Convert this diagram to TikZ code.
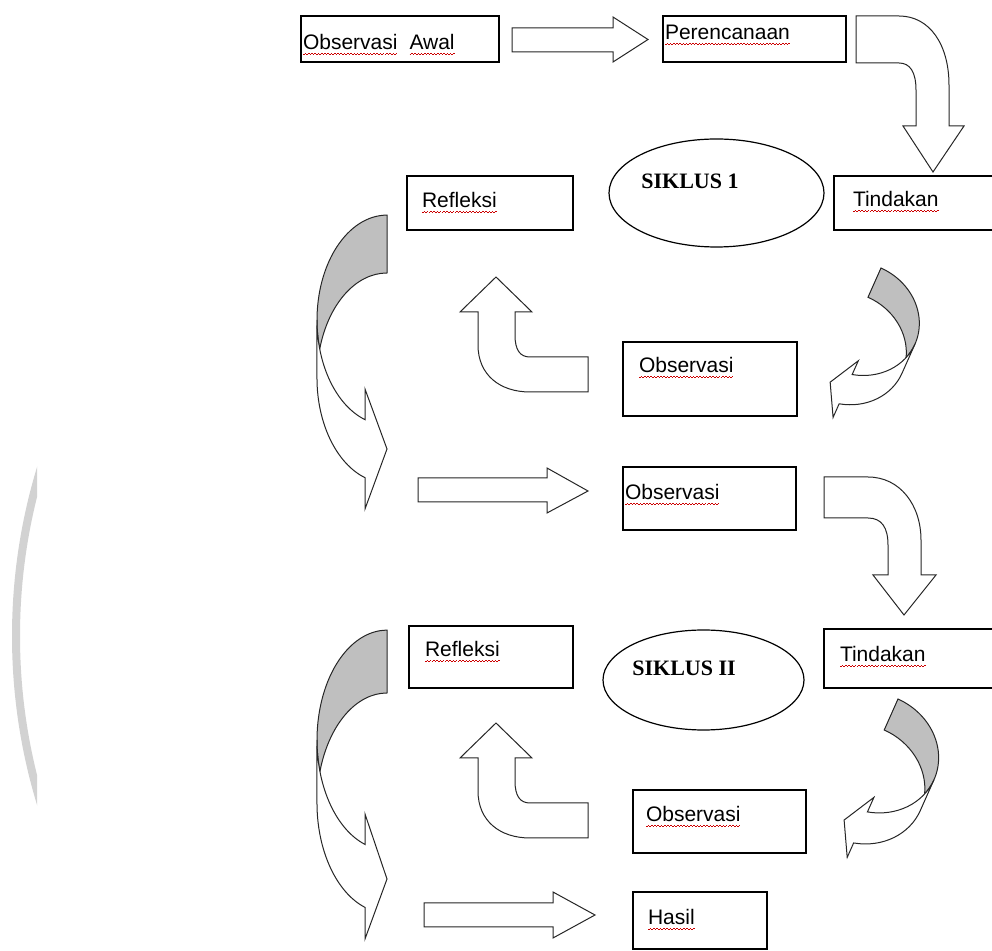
\documentclass[tikz,border=0pt]{standalone}
\usepackage{fontspec}
\setmainfont{Liberation Sans}
\newfontfamily\siklusfont{Liberation Serif}
\usetikzlibrary{shapes.geometric}

% red wavy mark under words, as in the original page
\newcommand\spell[1]{\setbox0=\hbox{#1}\rlap{\raisebox{-2.4pt}{\color{red!80!black}\hbox to \wd0{\xleaders\hbox to 1.6pt{\rule{0.8pt}{0.45pt}\rule[0.45pt]{0.8pt}{0.45pt}}\hfil}}}\box0}

\begin{document}
\begin{tikzpicture}[x=0.5pt, y=-0.5pt,
	box/.style={draw, line width=0.8pt, anchor=north west, align=left, inner ysep=0pt, outer sep=0pt, font=\fontsize{10.5}{12}\selectfont},
	cycle/.style={draw, ellipse, line width=0.6pt, inner sep=0pt, outer sep=0pt},
	cyclelabel/.style={font=\siklusfont\bfseries\fontsize{11}{13}\selectfont, anchor=base west, inner sep=0pt},
	blockarrow/.style={draw=black!85, fill=white, line width=0.5pt, line join=miter},
	backface/.style={blockarrow, fill=gray!50}]
	\useasboundingbox (0,0) rectangle (992,951);

	% Faint arc at the left edge
	\begin{scope}
		\clip (0,400) rectangle (37,951);
		\draw[gray!35, line width=4pt] (591,636) circle[radius=287.5pt];
	\end{scope}

	% Boxes
	\node[box, inner xsep=1pt, text width=97pt, text height=17pt, text depth=6pt] (obsawal) at (301,16) {\spell{Observasi}\hspace{2.5pt} \spell{Awal}};
	\node[box, inner xsep=1pt, text width=89.5pt, text height=12pt, text depth=11pt] (rencana) at (663,16) {\spell{Perencanaan}};
	\node[box, inner xsep=7.5pt, text width=68pt, text height=16pt, text depth=11pt] (refl1) at (407,176) {\spell{Refleksi}};
	\node[box, inner xsep=9.5pt, text width=61.5pt, text height=15.5pt, text depth=11.5pt] (tind1) at (834,176) {\spell{Tindakan}};
	\node[box, inner xsep=8pt, text width=71pt, text height=15.5pt, text depth=21.5pt] (obs1) at (623,342) {\spell{Observasi}};
	\node[box, inner xsep=1pt, text width=84.5pt, text height=16.5pt, text depth=15pt] (obs2) at (623,467) {\spell{Observasi}};
	\node[box, inner xsep=8pt, text width=66pt, text height=15.5pt, text depth=15.5pt] (refl2) at (409,626) {\spell{Refleksi}};
	\node[box, inner xsep=8pt, text width=69.5pt, text height=16.5pt, text depth=13pt] (tind2) at (824,629) {\spell{Tindakan}};
	\node[box, inner xsep=6.5pt, text width=73.5pt, text height=16pt, text depth=15.5pt] (obs3) at (633,790) {\spell{Observasi}};
	\node[box, inner xsep=7.5pt, text width=52pt, text height=16.5pt, text depth=12pt] (hasil) at (633,892) {\spell{Hasil}};

	% Cycles
	\node[cycle, minimum width=107.5pt, minimum height=54pt] (sik1) at (716.5,193) {};
	\node[cyclelabel] (sik1lab) at ([shift={(-75.5,-4)}]sik1.center) {SIKLUS 1};
	\node[cycle, minimum width=100.5pt, minimum height=50pt] (sik2) at (703.5,680) {};
	\node[cyclelabel] (sik2lab) at ([shift={(-71.5,-4)}]sik2.center) {SIKLUS II};

	% Straight block arrows
	\draw[blockarrow] (512,28) -- (613,28) -- (613,17) -- (648,39.5) -- (613,62) -- (613,52) -- (512,52) -- cycle;
	\draw[blockarrow] (418,478) -- (547,478) -- (547,468) -- (588,491) -- (547,513) -- (547,502) -- (418,502) -- cycle;
	\draw[blockarrow] (424,903) -- (553,903) -- (553,892) -- (595,915) -- (553,938) -- (553,927) -- (424,927) -- cycle;

	% Bent arrows going down
	\draw[blockarrow] (856,16) -- (899,16) .. controls (930,16) and (949,45) .. (949,85) -- (949,126) -- (964,126) -- (933,172)
		-- (903,126) -- (916,126) -- (916,90) .. controls (916,72) and (910,63) .. (899,63) -- (856,63) -- cycle;
	\draw[blockarrow] (824,477) -- (868,477) .. controls (900,477) and (921,505) .. (921,540) -- (921,575) -- (936,575) -- (904,615)
		-- (873,575) -- (888,575) -- (888,545) .. controls (888,528) and (882,518) .. (868,518) -- (824,518) -- cycle;

	% Bent arrows going up
	\draw[blockarrow] (588,357) -- (530,357) .. controls (520,357) and (515,350) .. (515,335) -- (515,312) -- (532,312) -- (496,277)
		-- (460,312) -- (478,312) -- (478,345) .. controls (478,375) and (500,392) .. (530,392) -- (588,392) -- cycle;
	\draw[blockarrow] (588,803) -- (530,803) .. controls (520,803) and (515,796) .. (515,781) -- (515,758) -- (532,758) -- (496,723)
		-- (460,758) -- (478,758) -- (478,791) .. controls (478,821) and (500,838) .. (530,838) -- (588,838) -- cycle;

	% Curved arrows on the left
	\draw[backface] (387,273) arc[start angle=270, end angle=196, x radius=70, y radius=105]
		arc[start angle=164, end angle=270, x radius=70, y radius=105] -- cycle;
	\draw[blockarrow] (317,320) arc[start angle=180, end angle=108.3, x radius=70, y radius=105]
		-- (365,389) -- (387,449) -- (365,509) -- (365,477.7)
		arc[start angle=108.3, end angle=180, x radius=70, y radius=105] -- cycle;
	\draw[backface] (387,693) arc[start angle=270, end angle=196.6, x radius=70, y radius=110]
		arc[start angle=163.4, end angle=270, x radius=70, y radius=110] -- cycle;
	\draw[blockarrow] (317,740) arc[start angle=180, end angle=108.3, x radius=70, y radius=110]
		-- (365,814) -- (387,879) -- (365,939) -- (365,907.4)
		arc[start angle=108.3, end angle=180, x radius=70, y radius=110] -- cycle;

	% Curved arrows on the right
	\begin{scope}[shift={(881,268)}, rotate=-24]
		\draw[backface] (0,32) arc[start angle=-90, end angle=-16.7, x radius=62, y radius=55.6]
			arc[start angle=16.7, end angle=-90, x radius=62, y radius=55.6] -- cycle;
		\draw[blockarrow] (62,55.6) arc[start angle=0, end angle=74.1, x radius=62, y radius=55.6]
			-- (17,94) -- (0,125) -- (17,156) -- (17,141.1)
			arc[start angle=74.1, end angle=0, x radius=62, y radius=55.6] -- cycle;
	\end{scope}
	\begin{scope}[shift={(898,699)}, rotate=-24, scale=1.06]
		\draw[backface] (0,32) arc[start angle=-90, end angle=-16.7, x radius=62, y radius=55.6]
			arc[start angle=16.7, end angle=-90, x radius=62, y radius=55.6] -- cycle;
		\draw[blockarrow] (62,55.6) arc[start angle=0, end angle=74.1, x radius=62, y radius=55.6]
			-- (17,94) -- (0,125) -- (17,156) -- (17,141.1)
			arc[start angle=74.1, end angle=0, x radius=62, y radius=55.6] -- cycle;
	\end{scope}
\end{tikzpicture}
\end{document}
